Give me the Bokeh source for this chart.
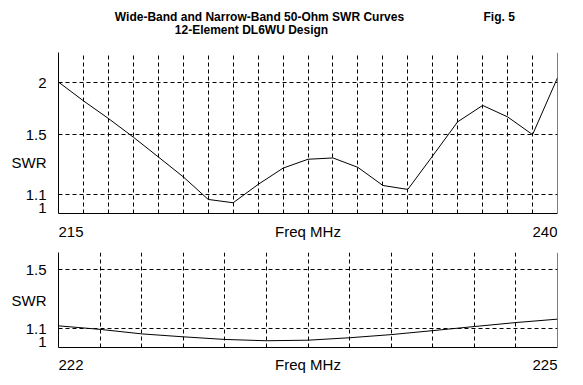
import numpy as np
from bokeh.plotting import figure
from bokeh.layouts import column
from bokeh.models import Range1d, FixedTicker, CustomJSTickFormatter, Span
from bokeh.core.properties import value
from bokeh.embed import file_html
from bokeh.resources import INLINE

# ---- data ----
freq_wide = [215.0, 216.25, 217.5, 218.75, 220.0, 221.25, 222.5, 223.75, 225.0, 226.25, 227.5,
             228.75, 230.0, 231.25, 232.5, 233.75, 235.0, 236.25, 237.5, 238.75, 240.0]
swr_wide = [2.00, 1.80, 1.635, 1.48, 1.335, 1.205, 1.074, 1.056, 1.159, 1.26, 1.319,
            1.328, 1.265, 1.153, 1.13, 1.343, 1.606, 1.755, 1.649, 1.50, 2.05]

freq_narrow = [222.0, 222.25, 222.5, 222.75, 223.0, 223.25, 223.5, 223.75, 224.0, 224.25, 224.5, 224.75, 225.0]
swr_narrow = [1.117, 1.097, 1.072, 1.056, 1.042, 1.035, 1.038, 1.051, 1.068, 1.09, 1.113, 1.136, 1.156]

yticks_wide = [1.0, 1.1, 1.5, 2.0]
yticks_narrow = [1.0, 1.1, 1.5]
swr_top_wide = 2.38
swr_top_narrow = 1.64

title1 = "Wide-Band and Narrow-Band 50-Ohm SWR Curves"
title2 = "12-Element DL6WU Design"
fig_label = "Fig. 5"
xlabel = "Freq MHz"
ylabel = "SWR"

# ---- layout constants (pixels) ----
W = 583
LEFT, RIGHT = 58, 26
FONT = "Liberation Sans"


def rho(s):
    s = np.asarray(s, dtype=float)
    return (s - 1.0) / (s + 1.0)


def text_fig(height, x_range):
    p = figure(width=W, height=height, x_range=x_range, y_range=Range1d(height, 0),
               x_axis_type=None, y_axis_type=None, output_backend="svg", toolbar_location=None,
               min_border_left=LEFT, min_border_right=RIGHT,
               min_border_top=0, min_border_bottom=0)
    p.outline_line_color = None
    p.background_fill_color = "white"
    p.border_fill_color = "white"
    return p


def chart(freq, swr, yticks, swr_top, frame_h, sep, label_px):
    x0, x1 = freq[0], freq[-1]
    ytop = float(rho(swr_top))
    p = figure(width=W, height=frame_h + 2, x_range=Range1d(x0, x1), y_range=Range1d(0, ytop),
               output_backend="svg", toolbar_location=None,
               min_border_left=LEFT, min_border_right=RIGHT,
               min_border_top=0, min_border_bottom=2)
    p.outline_line_color = None
    p.background_fill_color = "white"
    p.border_fill_color = "white"

    label_pos = label_px * ytop / frame_h
    p.yaxis.ticker = FixedTicker(ticks=[float(v) for v in rho(yticks)] + [label_pos])
    p.yaxis.formatter = CustomJSTickFormatter(
        args=dict(pos=label_pos, label=ylabel),
        code="if (Math.abs(tick - pos) < 1e-9) return label;"
             "const s = (1 + tick) / (1 - tick); return String(Math.round(s * 10) / 10);")
    p.yaxis.major_label_text_font = FONT
    p.yaxis.major_label_text_font_size = "15px"
    p.yaxis.major_label_text_color = "black"
    p.yaxis.major_label_standoff = 12
    for ax in (p.xaxis, p.yaxis):
        ax.major_tick_in = 0
        ax.major_tick_out = 0
        ax.minor_tick_in = 0
        ax.minor_tick_out = 0
        ax.axis_line_color = "black"
        ax.axis_line_width = 1
    p.xaxis.ticker = FixedTicker(ticks=[])
    p.xaxis.major_label_standoff = 0
    p.xaxis.major_label_text_font_size = "0px"

    n = int(round((x1 - x0) / sep))
    p.xgrid.ticker = FixedTicker(ticks=[x0 + sep * i for i in range(1, n)])
    p.ygrid.ticker = FixedTicker(ticks=[float(v) for v in rho([t for t in yticks if t > 1.0])])
    for g in (p.xgrid, p.ygrid):
        g.grid_line_color = "black"
        g.grid_line_dash = "4 3"
        g.grid_line_width = 1
        g.grid_line_alpha = 1.0

    p.add_layout(Span(location=x1, dimension="height", line_color="black", line_width=1))
    p.line(freq, rho(swr), line_color="black", line_width=1)
    return p


def xlabel_fig(freq, height, text_y):
    x0, x1 = freq[0], freq[-1]
    p = text_fig(height, Range1d(x0, x1))
    common = dict(text_font=value(FONT), text_font_size="15px", text_color="black", text_baseline="middle")
    p.text(x=[x0], y=[text_y], text=[f"{x0:g}"], text_align="left", **common)
    p.text(x=[(x0 + x1) / 2], y=[text_y], text=[xlabel], text_align="center", **common)
    p.text(x=[x1], y=[text_y], text=[f"{x1:g}"], text_align="right", **common)
    return p


# title strip (page y 0..52); x range = page pixels of the aligned frame
tfig = text_fig(52, Range1d(LEFT, W - RIGHT))
tcommon = dict(text_font=value(FONT), text_font_size="12px", text_font_style="bold",
               text_color="black", text_baseline="middle")
tfig.text(x=[259], y=[16], text=[title1], text_align="center", **tcommon)
tfig.text(x=[251], y=[29], text=[title2], text_align="center", **tcommon)
tfig.text(x=[483], y=[16], text=[fig_label], text_align="left", **tcommon)

c1 = chart(freq_wide, swr_wide, yticks_wide, swr_top_wide, 161, 1.25, 51)        # page y 52..215
m1 = xlabel_fig(freq_wide, 37, 16)                                                # page y 215..252
c2 = chart(freq_narrow, swr_narrow, yticks_narrow, swr_top_narrow, 95, 0.25, 47)  # page y 252..349
m2 = xlabel_fig(freq_narrow, 28, 15)                                              # page y 349..377

layout = column(tfig, c1, m1, c2, m2, spacing=0)
open("out.html", "w").write(file_html(layout, INLINE))
